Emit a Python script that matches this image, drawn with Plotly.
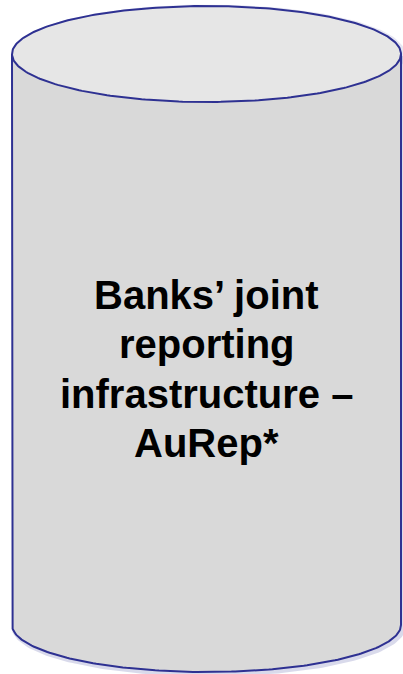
import numpy as np
import plotly.graph_objects as go

# Label text, one entry per line
label_lines = ["Banks’ joint", "reporting", "infrastructure –", "AuRep*"]

# Cylinder geometry (pixel space)
W, H = 403, 674
cx = 206.5
rx = 194.5
top_cy, top_ry = 54, 48
bot_cy, bot_ry = 625, 47

edge = "#2e3192"
body_fill = "#d9d9d9"
top_fill = "#e6e6e6"

text_center_y = 369
line_gap = 49.5
font_size = 40

t_lower = np.linspace(np.pi, 0, 160)
t_full = np.linspace(0, 2 * np.pi, 320)

bx = np.concatenate([[cx - rx], cx + rx * np.cos(t_lower), [cx + rx]])
by = np.concatenate([[top_cy], bot_cy + bot_ry * np.sin(t_lower), [top_cy]])

tx = cx + rx * np.cos(t_full)
ty = top_cy + top_ry * np.sin(t_full)

fig = go.Figure()
fig.add_trace(go.Scatter(x=bx + 2, y=by + 2, mode="lines",
                         line=dict(color="rgba(46,49,146,0.18)", width=5),
                         hoverinfo="skip", showlegend=False))
fig.add_trace(go.Scatter(x=tx + 2, y=ty + 1, mode="lines",
                         line=dict(color="rgba(46,49,146,0.12)", width=5),
                         hoverinfo="skip", showlegend=False))
fig.add_trace(go.Scatter(x=bx, y=by, mode="lines", fill="toself",
                         fillcolor=body_fill, line=dict(color=edge, width=2),
                         hoverinfo="skip", showlegend=False))
fig.add_trace(go.Scatter(x=tx, y=ty, mode="lines", fill="toself",
                         fillcolor=top_fill, line=dict(color=edge, width=2),
                         hoverinfo="skip", showlegend=False))

n = len(label_lines)
for i, line in enumerate(label_lines):
    fig.add_annotation(x=cx, y=text_center_y + (i - (n - 1) / 2) * line_gap,
                       text="<b>" + line + "</b>", showarrow=False,
                       font=dict(family="Liberation Sans, Arial", size=font_size, color="#000000"),
                       xanchor="center", yanchor="middle")

fig.update_xaxes(range=[0, W], visible=False, fixedrange=True)
fig.update_yaxes(range=[H, 0], visible=False, fixedrange=True)
fig.update_layout(width=W, height=H, margin=dict(l=0, r=0, t=0, b=0),
                  paper_bgcolor="white", plot_bgcolor="white")
fig.write_html("out.html", config={"displayModeBar": False},
               post_script="document.body.style.margin='0';document.body.style.overflow='hidden';")
